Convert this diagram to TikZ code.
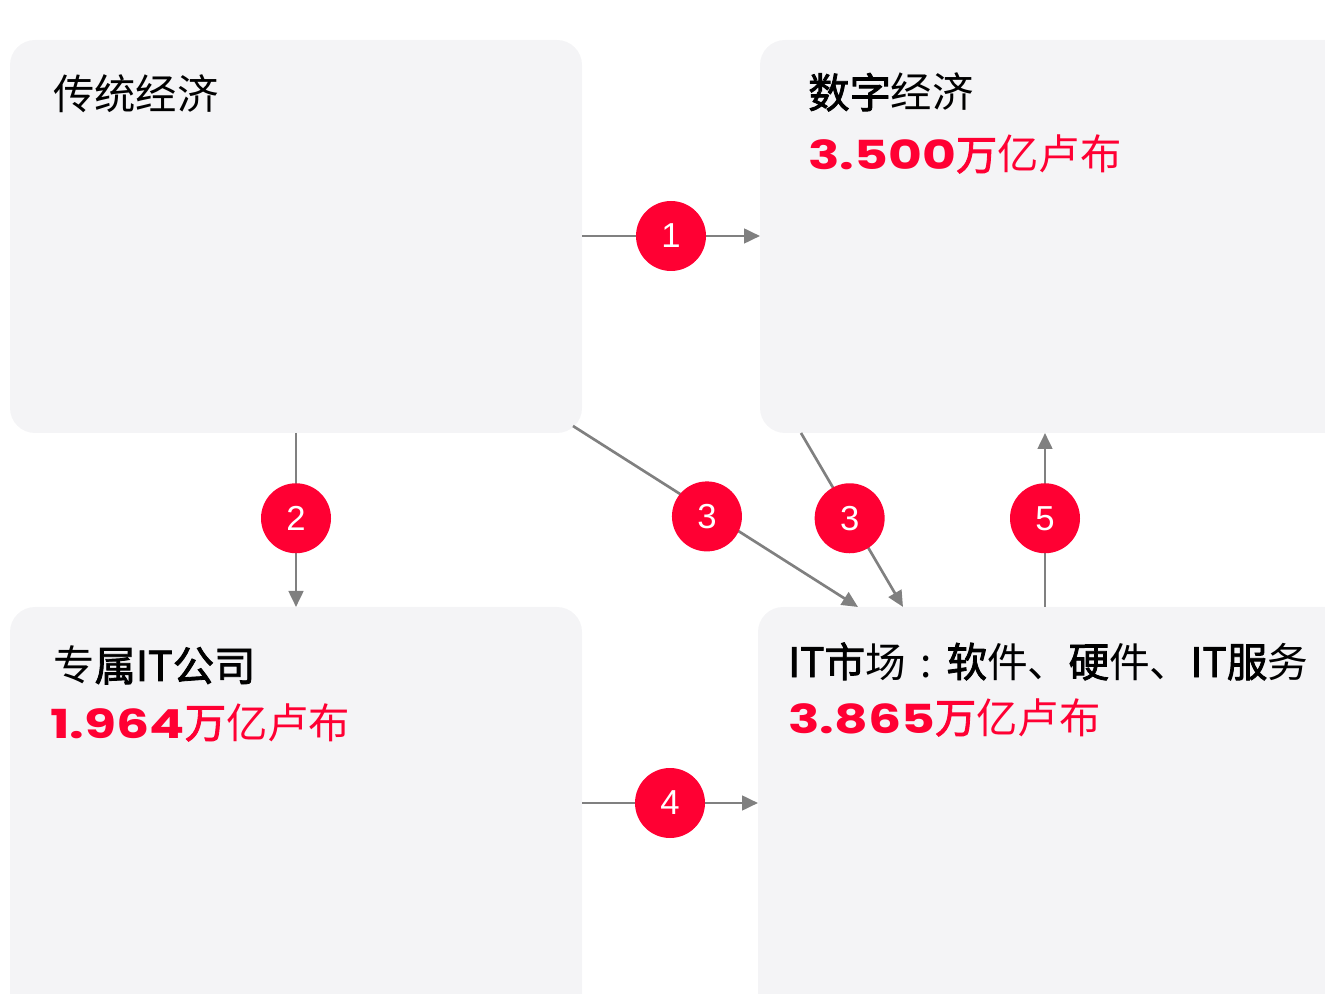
\documentclass[tikz,border=0pt]{standalone}
\usepackage{fontspec}
\usetikzlibrary{arrows.meta}
\newfontfamily\cjk{Noto Sans CJK SC}
\newfontfamily\cjkm[FakeBold=2]{Noto Sans CJK SC}
\newfontfamily\numfont[FakeStretch=1.3]{Poppins}
\newfontfamily\circfont{Liberation Sans}
\definecolor{boxfill}{HTML}{F4F4F6}
\definecolor{accent}{HTML}{FF0033}
\definecolor{linegray}{HTML}{808080}
\tikzset{
  panel/.style={rectangle, rounded corners=18.75pt, fill=boxfill, draw=none, inner sep=0pt, outer sep=0pt},
  arr/.style={draw=linegray, line width=2pt, -{Triangle[length=12pt,width=11pt]}},
  num/.style={circle, fill=accent, text=white, minimum size=52.5pt, inner sep=0pt, font=\circfont\fontsize{26pt}{30pt}\selectfont},
  ttl/.style={anchor=base west, inner sep=0pt, font=\cjk\fontsize{31pt}{36pt}\selectfont},
  val/.style={anchor=base west, inner sep=0pt, text=accent, font=\cjk\fontsize{31pt}{36pt}\selectfont},
}
\newcommand{\bignum}[1]{{\numfont\bfseries\fontsize{30pt}{36pt}\selectfont #1}}
\newcommand{\med}[1]{{\cjkm #1}}
\begin{document}
\begin{tikzpicture}[x=0.75pt, y=-0.75pt]
\useasboundingbox (0,0) rectangle (1325,994);
\clip (0,0) rectangle (1325,994);
% panels
\node[panel, minimum width=429pt, minimum height=294.75pt] (tl) at (296,236.5) {};
\node[panel, minimum width=450pt, minimum height=294.75pt] (tr) at (1060,236.5) {};
\node[panel, minimum width=429pt, minimum height=317.25pt] (bl) at (296,818.5) {};
\node[panel, minimum width=451.5pt, minimum height=317.25pt] (br) at (1059,818.5) {};
% texts
\node[ttl] (t1) at (53,110) {传统经济};
\node[ttl] (t2) at (808,108) {\med{数字}经济};
\node[val] (v2) at (808,170) {\bignum{3.500}\med{万}亿卢布};
\node[ttl] (t3) at (53,681) {专\med{属IT公司}};
\node[val] (v3) at (50,738) {\bignum{1.964}\med{万}亿卢布};
\node[ttl, font=\cjk\fontsize{30.5pt}{36pt}\selectfont] (t4) at (788,677) {\med{IT市}场\makebox[1em][c]{:}\med{软}件、\med{硬}件、\med{IT服}务};
\node[val] (v4) at (788,733) {\bignum{3.865}\med{万}亿卢布};
% connectors
\draw[arr] (tl.east |- 0,236) -- node[num] (c1) {1} (tr.west |- 0,236);
\draw[arr] (296,0 |- tl.south) -- node[num, pos=0.49] (c2) {2} (296,0 |- bl.north);
\draw[arr] ([shift={(-9,-7)}]tl.south east) -- node[num, pos=0.47, yshift=-4pt] (c3a) {3} (858,0 |- br.north);
\draw[arr] (801,0 |- tr.south) -- node[num, pos=0.49, xshift=-1pt] (c3b) {3} (903,0 |- br.north);
\draw[arr] (1045,0 |- br.north) -- node[num, pos=0.51] (c5) {5} (1045,0 |- tr.south);
\draw[arr] (bl.east |- 0,803) -- node[num] (c4) {4} (br.west |- 0,803);
\end{tikzpicture}
\end{document}
